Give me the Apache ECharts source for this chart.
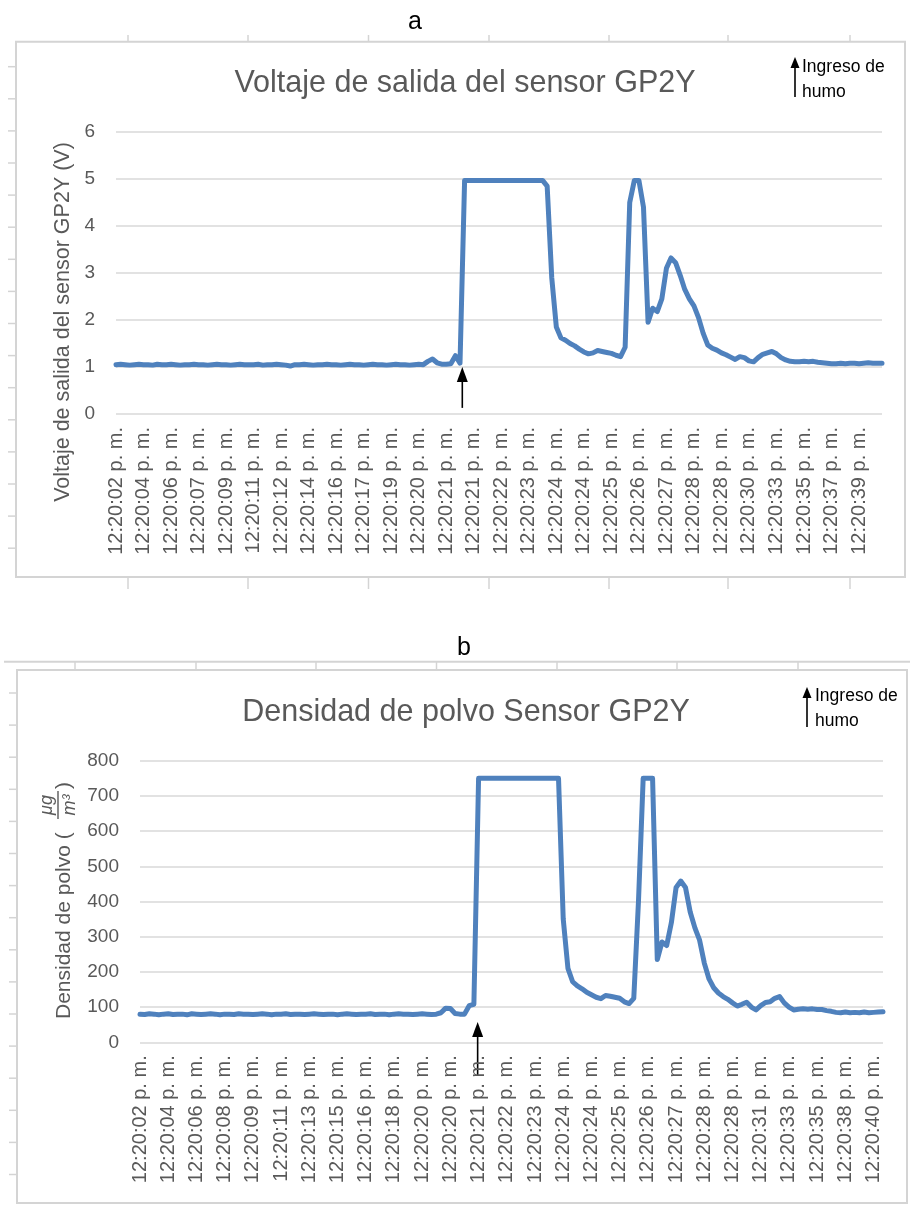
<!DOCTYPE html>
<html>
<head>
<meta charset="utf-8">
<script src="https://cdn.jsdelivr.net/npm/echarts@6/dist/echarts.min.js"></script>
<style>
  html, body { margin: 0; padding: 0; background: #fff; }
  #chart { width: 910px; height: 1207px; }
</style>
</head>
<body>
<div id="chart"></div>
<script>
// tick labels (one every STEP samples)
const labelsA = [
  "12:20:02 p. m.", "12:20:04 p. m.", "12:20:06 p. m.", "12:20:07 p. m.", "12:20:09 p. m.",
  "12:20:11 p. m.", "12:20:12 p. m.", "12:20:14 p. m.", "12:20:16 p. m.", "12:20:17 p. m.",
  "12:20:19 p. m.", "12:20:20 p. m.", "12:20:21 p. m.", "12:20:21 p. m.", "12:20:22 p. m.",
  "12:20:23 p. m.", "12:20:24 p. m.", "12:20:24 p. m.", "12:20:25 p. m.", "12:20:26 p. m.",
  "12:20:27 p. m.", "12:20:28 p. m.", "12:20:28 p. m.", "12:20:30 p. m.", "12:20:33 p. m.",
  "12:20:35 p. m.", "12:20:37 p. m.", "12:20:39 p. m."
];
const labelsB = [
  "12:20:02 p. m.", "12:20:04 p. m.", "12:20:06 p. m.", "12:20:08 p. m.", "12:20:09 p. m.",
  "12:20:11 p. m.", "12:20:13 p. m.", "12:20:15 p. m.", "12:20:16 p. m.", "12:20:18 p. m.",
  "12:20:20 p. m.", "12:20:20 p. m.", "12:20:21 p. m.", "12:20:22 p. m.", "12:20:23 p. m.",
  "12:20:24 p. m.", "12:20:24 p. m.", "12:20:25 p. m.", "12:20:26 p. m.", "12:20:27 p. m.",
  "12:20:28 p. m.", "12:20:28 p. m.", "12:20:31 p. m.", "12:20:33 p. m.", "12:20:35 p. m.",
  "12:20:38 p. m.", "12:20:40 p. m."
];
const STEP = 6;

// voltaje de salida (V)
const voltage = [
  1.05, 1.06, 1.05, 1.04, 1.05, 1.06, 1.05, 1.05, 1.04, 1.06, 1.05, 1.05,
  1.06, 1.05, 1.04, 1.05, 1.05, 1.06, 1.05, 1.05, 1.04, 1.05, 1.06, 1.05,
  1.05, 1.04, 1.05, 1.06, 1.05, 1.05, 1.05, 1.06, 1.04, 1.05, 1.05, 1.06,
  1.05, 1.04, 1.02, 1.05, 1.05, 1.06, 1.05, 1.04, 1.05, 1.05, 1.06, 1.05,
  1.05, 1.04, 1.05, 1.06, 1.05, 1.05, 1.04, 1.05, 1.06, 1.05, 1.05, 1.04,
  1.05, 1.06, 1.05, 1.05, 1.04, 1.05, 1.06, 1.05, 1.12, 1.17, 1.09, 1.06,
  1.06, 1.07, 1.24, 1.08, 4.97, 4.97, 4.97, 4.97, 4.97, 4.97, 4.97, 4.97,
  4.97, 4.97, 4.97, 4.97, 4.97, 4.97, 4.97, 4.97, 4.97, 4.97, 4.85, 2.9,
  1.85, 1.62, 1.57, 1.5, 1.45, 1.38, 1.32, 1.28, 1.3, 1.35, 1.33, 1.31,
  1.29, 1.25, 1.22, 1.42, 4.5, 4.97, 4.97, 4.4, 1.95, 2.25, 2.18, 2.45,
  3.1, 3.32, 3.22, 2.95, 2.65, 2.45, 2.3, 2.05, 1.72, 1.47, 1.4, 1.36,
  1.3, 1.26, 1.21, 1.16, 1.22, 1.2, 1.13, 1.11, 1.2, 1.27, 1.3, 1.33,
  1.28, 1.2, 1.15, 1.12, 1.11, 1.11, 1.12, 1.11, 1.12, 1.1, 1.09, 1.08,
  1.07, 1.07, 1.08, 1.07, 1.08, 1.08, 1.07, 1.08, 1.09, 1.08, 1.08, 1.08
];

// densidad de polvo (ug/m3)
const density = [
  80, 79, 81, 80, 78, 80, 81, 79, 80, 80, 78, 81,
  80, 79, 80, 81, 80, 78, 80, 80, 79, 81, 80, 80,
  79, 80, 81, 80, 78, 80, 80, 81, 79, 80, 80, 79,
  80, 81, 80, 79, 80, 80, 78, 80, 81, 80, 79, 80,
  80, 81, 79, 80, 80, 78, 80, 81, 80, 80, 79, 80,
  81, 80, 79, 80, 84, 97, 96, 82, 80, 80, 104, 108,
  750, 750, 750, 750, 750, 750, 750, 750, 750, 750, 750, 750,
  750, 750, 750, 750, 750, 750, 350, 210, 172, 160, 152, 142,
  135, 128, 124, 133, 131, 128, 125, 115, 110, 125, 400, 750,
  750, 750, 235, 285, 275, 340, 440, 458, 440, 370, 325, 290,
  225, 180, 155, 140, 130, 122, 112, 103, 108, 114, 100, 92,
  104, 113, 115, 125, 130, 112, 100, 92, 94, 95, 94, 95,
  93, 93, 90, 88, 85, 84, 86, 84, 85, 84, 86, 84,
  85, 86, 87
];

// sample where the smoke enters (arrow)
const smokeA = 75.5;
const smokeB = 71.8;

const GRAY = "#595959";
const FONT = "Liberation Sans";
const BLUE = "#4F81BD";

const chart = echarts.init(document.getElementById("chart"));

function xAxisFor(gridIndex, labels, n) {
  return {
    type: "value",
    gridIndex: gridIndex,
    min: 0,
    max: n - 1,
    interval: STEP,
    axisLine: { show: false },
    axisTick: { show: false },
    splitLine: { show: false },
    axisLabel: {
      rotate: 90,
      margin: 13,
      color: GRAY,
      fontSize: 20,
      fontFamily: FONT,
      formatter: v => (v % STEP === 0 && labels[v / STEP]) || ""
    }
  };
}

function yAxisFor(gridIndex, max, interval) {
  return {
    type: "value",
    gridIndex: gridIndex,
    min: 0,
    max: max,
    interval: interval,
    axisLine: { show: false },
    axisTick: { show: false },
    splitLine: { lineStyle: { color: "#d9d9d9", width: 1.5 } },
    axisLabel: { margin: 21, color: GRAY, fontSize: 19, fontFamily: FONT }
  };
}

chart.setOption({
  animation: false,
  title: [
    {
      text: "Voltaje de salida del sensor GP2Y",
      left: 460, top: 63, textAlign: "center",
      textStyle: { fontSize: 30.5, fontWeight: "normal", color: GRAY, fontFamily: FONT }
    },
    {
      text: "Densidad de polvo Sensor GP2Y",
      left: 461, top: 692, textAlign: "center",
      textStyle: { fontSize: 30.5, fontWeight: "normal", color: GRAY, fontFamily: FONT }
    }
  ],
  grid: [
    { left: 116, right: 28, top: 132, height: 282 },
    { left: 140, right: 27, top: 760.7, height: 281.6 }
  ],
  xAxis: [xAxisFor(0, labelsA, voltage.length), xAxisFor(1, labelsB, density.length)],
  yAxis: [yAxisFor(0, 6, 1), yAxisFor(1, 800, 100)],
  series: [
    {
      type: "line", xAxisIndex: 0, yAxisIndex: 0,
      data: voltage.map((v, i) => [i, v]),
      showSymbol: false,
      lineStyle: { color: BLUE, width: 5, cap: "round", join: "round" }
    },
    {
      type: "line", xAxisIndex: 1, yAxisIndex: 1,
      data: density.map((v, i) => [i, v]),
      showSymbol: false,
      lineStyle: { color: BLUE, width: 5, cap: "round", join: "round" }
    }
  ]
});

// decoration: frames, ruler ticks, arrows, captions
function line(x1, y1, x2, y2, color, w) {
  return { type: "line", shape: { x1, y1, x2, y2 }, style: { stroke: color, lineWidth: w }, silent: true };
}
function arrow(x, tipY, tailY, hw, hh) {
  return [
    line(x, tipY + hh - 2, x, tailY, "#000", 1.6),
    { type: "polygon", shape: { points: [[x, tipY], [x - hw, tipY + hh], [x + hw, tipY + hh]] }, style: { fill: "#000" }, silent: true }
  ];
}
function caption(x, y) {
  return {
    type: "text", x: x, y: y,
    style: { text: "Ingreso de\nhumo", fill: "#000", font: "17.5px " + FONT, lineHeight: 25, textAlign: "left", textVerticalAlign: "top" },
    silent: true
  };
}

const FRAME = "#d4d4d4";
const els = [];
// frame a
els.push({ type: "rect", shape: { x: 16, y: 41.7, width: 889, height: 535.3 }, style: { fill: "none", stroke: FRAME, lineWidth: 2 }, silent: true });
[128, 248, 368.5, 489, 609, 728, 850].forEach(x => {
  els.push(line(x, 35, x, 41.7, FRAME, 1.5));
  els.push(line(x, 577, x, 589, FRAME, 1.5));
});
for (let y = 66.7; y < 570; y += 32.1) els.push(line(8, y, 16, y, FRAME, 1.5));
// frame b
els.push(line(4, 661.7, 910, 661.7, FRAME, 2));
[75, 196, 316, 436.5, 557, 677, 798].forEach(x => els.push(line(x, 661.7, x, 670, FRAME, 1.5)));
els.push({ type: "rect", shape: { x: 17, y: 670, width: 890, height: 533 }, style: { fill: "none", stroke: FRAME, lineWidth: 2 }, silent: true });
for (let y = 693; y < 1200; y += 32.1) els.push(line(9, y, 17, y, FRAME, 1.5));

// panel letters
els.push({ type: "text", x: 415, y: 22, style: { text: "a", font: "25px " + FONT, fill: "#000", textAlign: "center", textVerticalAlign: "middle" }, silent: true });
els.push({ type: "text", x: 464, y: 648, style: { text: "b", font: "25px " + FONT, fill: "#000", textAlign: "center", textVerticalAlign: "middle" }, silent: true });

// y axis titles
els.push({
  type: "text", x: 63, y: 322, rotation: Math.PI / 2,
  style: { text: "Voltaje de salida del sensor GP2Y (V)", font: "21.5px " + FONT, fill: GRAY, textAlign: "center", textVerticalAlign: "middle" },
  silent: true
});
els.push({
  type: "group", x: 64, y: 1019, rotation: Math.PI / 2, silent: true,
  children: [
    { type: "text", x: 0, y: 0, style: { text: "Densidad de polvo (", font: "21px " + FONT, fill: GRAY, textAlign: "left", textVerticalAlign: "middle" } },
    { type: "text", x: 214, y: -17, style: { text: "μg", font: "italic 18px " + FONT, fill: GRAY, textAlign: "center", textVerticalAlign: "middle" } },
    { type: "line", shape: { x1: 200, y1: -6, x2: 228, y2: -6 }, style: { stroke: GRAY, lineWidth: 1.4 } },
    { type: "text", x: 214, y: 6, style: { text: "m³", font: "italic 18px " + FONT, fill: GRAY, textAlign: "center", textVerticalAlign: "middle" } },
    { type: "text", x: 230, y: 0, style: { text: ")", font: "21px " + FONT, fill: GRAY, textAlign: "left", textVerticalAlign: "middle" } }
  ]
});

// legend-like note (top right)
arrow(795, 57, 97, 4.5, 11).forEach(e => els.push(e));
els.push(caption(802, 55));
arrow(807, 687, 727, 4.5, 11).forEach(e => els.push(e));
els.push(caption(815, 684));

// smoke entry arrows, placed through the axes
const tipA = chart.convertToPixel({ gridIndex: 0 }, [smokeA, 1.0]);
const tailA = chart.convertToPixel({ gridIndex: 0 }, [smokeA, 0.13]);
arrow(tipA[0], tipA[1], tailA[1], 5.5, 15).forEach(e => els.push(e));
const tipB = chart.convertToPixel({ gridIndex: 1 }, [smokeB, 58]);
const tailB = chart.convertToPixel({ gridIndex: 1 }, [smokeB, -95]);
arrow(tipB[0], tipB[1], tailB[1], 5.5, 15).forEach(e => els.push(e));

chart.setOption({ graphic: { elements: els } });
</script>
</body>
</html>
